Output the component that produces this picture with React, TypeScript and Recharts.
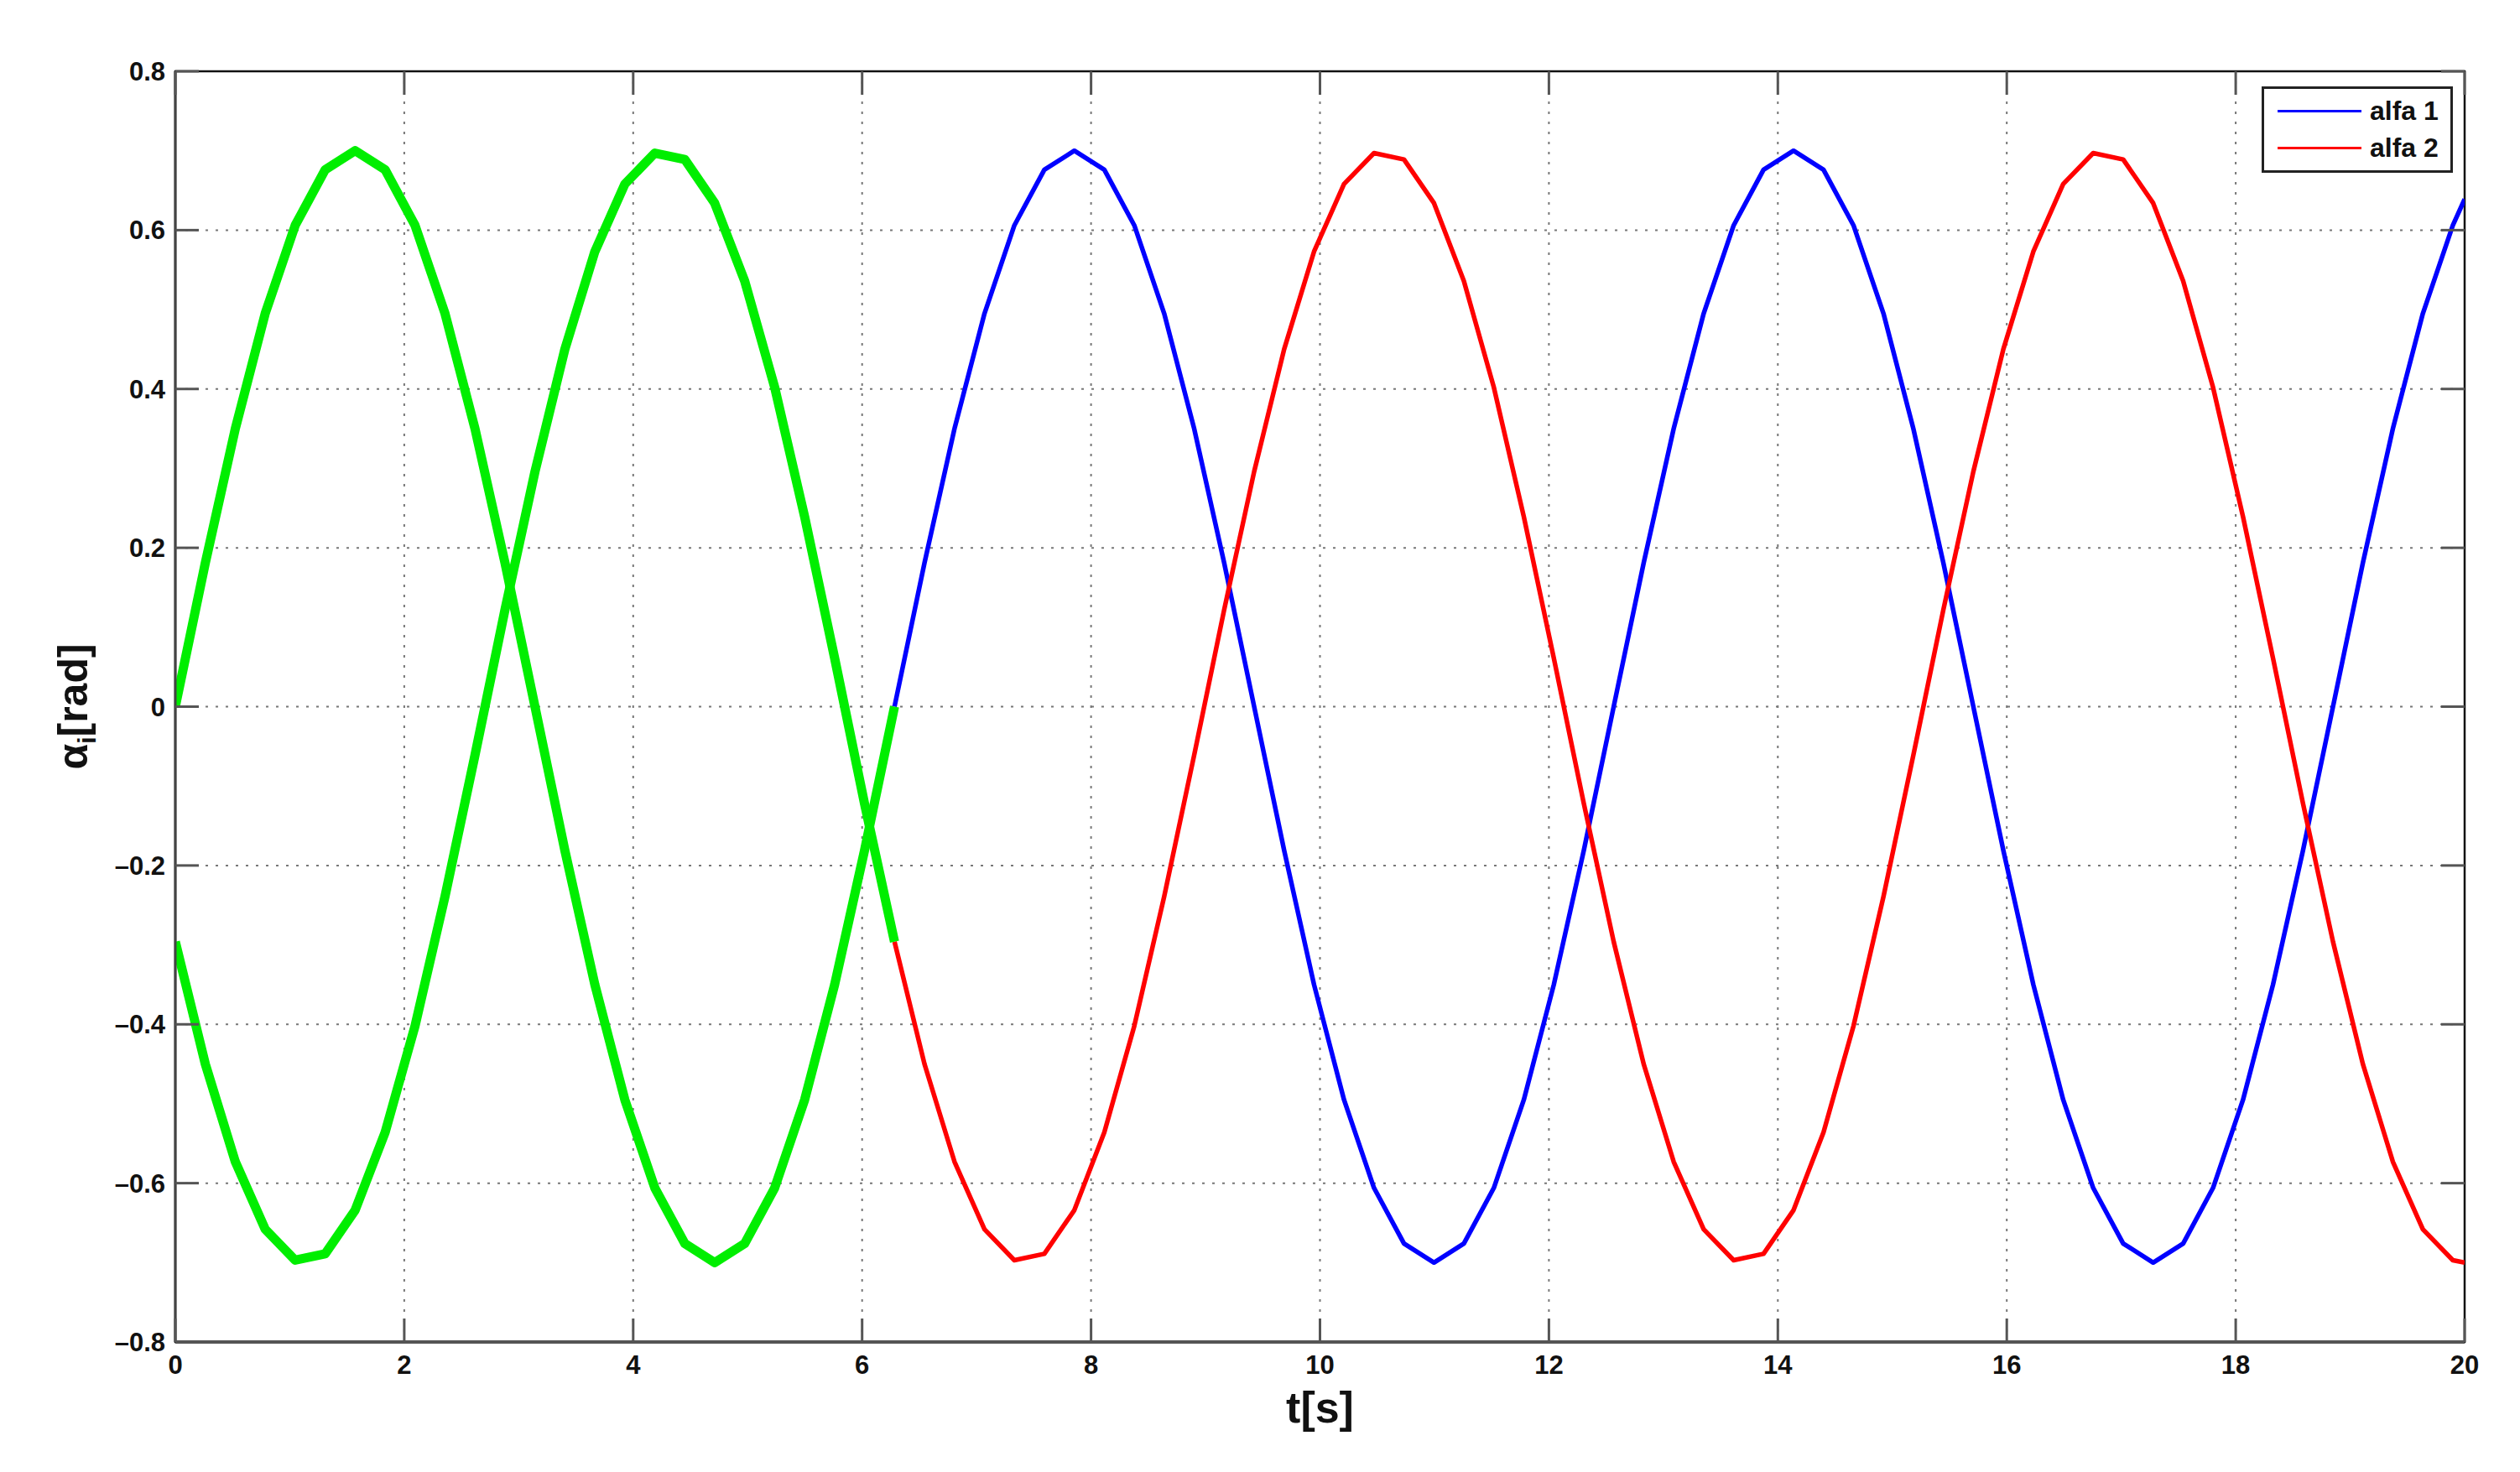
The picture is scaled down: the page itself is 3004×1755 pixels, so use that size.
import { LineChart, Line, XAxis, YAxis, CartesianGrid, ReferenceArea, Legend } from 'recharts'

// sample times [s] (step ~0.26 s, last point at 20 s)
const time = [
  0, 0.262, 0.524, 0.785, 1.047, 1.309, 1.571, 1.833, 2.094, 2.356, 2.618, 2.88, 3.142,
  3.403, 3.665, 3.927, 4.189, 4.451, 4.712, 4.974, 5.236, 5.498, 5.76, 6.021, 6.283,
  6.545, 6.807, 7.069, 7.33, 7.592, 7.854, 8.116, 8.378, 8.639, 8.901, 9.163, 9.425,
  9.687, 9.948, 10.21, 10.472, 10.734, 10.996, 11.257, 11.519, 11.781, 12.043, 12.305,
  12.566, 12.828, 13.09, 13.352, 13.614, 13.875, 14.137, 14.399, 14.661, 14.923, 15.184,
  15.446, 15.708, 15.97, 16.232, 16.493, 16.755, 17.017, 17.279, 17.541, 17.802, 18.064,
  18.326, 18.588, 18.85, 19.111, 19.373, 19.635, 19.897, 20,
]

// alfa 1 [rad]
const alfa1 = [
  0, 0.181, 0.35, 0.495, 0.606, 0.676, 0.7, 0.676, 0.606, 0.495, 0.35, 0.181, 0,
  -0.181, -0.35, -0.495, -0.606, -0.676, -0.7, -0.676, -0.606, -0.495, -0.35, -0.181, 0,
  0.181, 0.35, 0.495, 0.606, 0.676, 0.7, 0.676, 0.606, 0.495, 0.35, 0.181, 0,
  -0.181, -0.35, -0.495, -0.606, -0.676, -0.7, -0.676, -0.606, -0.495, -0.35, -0.181,
  0, 0.181, 0.35, 0.495, 0.606, 0.676, 0.7, 0.676, 0.606, 0.495, 0.35, 0.181,
  0, -0.181, -0.35, -0.495, -0.606, -0.676, -0.7, -0.676, -0.606, -0.495, -0.35, -0.181,
  0, 0.181, 0.35, 0.495, 0.606, 0.639,
]

// alfa 2 [rad]
const alfa2 = [
  -0.296, -0.45, -0.573, -0.658, -0.697, -0.689, -0.634, -0.536, -0.402, -0.239, -0.061, 0.122,
  0.296, 0.45, 0.573, 0.658, 0.697, 0.689, 0.634, 0.536, 0.402, 0.239, 0.061, -0.122,
  -0.296, -0.45, -0.573, -0.658, -0.697, -0.689, -0.634, -0.536, -0.402, -0.239, -0.061, 0.122,
  0.296, 0.45, 0.573, 0.658, 0.697, 0.689, 0.634, 0.536, 0.402, 0.239, 0.061, -0.122,
  -0.296, -0.45, -0.573, -0.658, -0.697, -0.689, -0.634, -0.536, -0.402, -0.239, -0.061, 0.122,
  0.296, 0.45, 0.573, 0.658, 0.697, 0.689, 0.634, 0.536, 0.402, 0.239, 0.061, -0.122,
  -0.296, -0.45, -0.573, -0.658, -0.697, -0.7,
]

const xTicks = [0, 2, 4, 6, 8, 10, 12, 14, 16, 18, 20]
const yTicks = [-0.8, -0.6, -0.4, -0.2, 0, 0.2, 0.4, 0.6, 0.8]

// first period (0..2π) is highlighted in green
const GREEN_END = 24

const W = 3004
const H = 1755
const PLOT = { left: 209, top: 85, right: 2938, bottom: 1600 }
const TICK_LEN = 28
const FONT = "'Liberation Sans', Arial, sans-serif"

const seg = (vals: number[], from: number, to: number) =>
  time.slice(from, to).map((t, i) => ({ t, v: vals[from + i] }))

const green1 = seg(alfa1, 0, GREEN_END + 1)
const green2 = seg(alfa2, 0, GREEN_END + 1)
const blue = seg(alfa1, GREEN_END, time.length)
const red = seg(alfa2, GREEN_END, time.length)

const fmtY = (v: number) => (v === 0 ? '0' : (v < 0 ? '\u2013' : '') + Math.abs(v).toFixed(1))

function XTick(props: any) {
  const { x, payload } = props
  return (
    <g>
      <line x1={x} x2={x} y1={PLOT.bottom} y2={PLOT.bottom - TICK_LEN} stroke="#555" strokeWidth={3} />
      <line x1={x} x2={x} y1={PLOT.top} y2={PLOT.top + TICK_LEN} stroke="#555" strokeWidth={3} />
      <text x={x} y={PLOT.bottom + 38} textAnchor="middle" fontFamily={FONT} fontWeight="bold" fontSize={31} fill="#111">
        {payload.value}
      </text>
    </g>
  )
}

function YTick(props: any) {
  const { y, payload } = props
  return (
    <g>
      <line x1={PLOT.left} x2={PLOT.left + TICK_LEN} y1={y} y2={y} stroke="#555" strokeWidth={3} />
      <line x1={PLOT.right} x2={PLOT.right - TICK_LEN} y1={y} y2={y} stroke="#555" strokeWidth={3} />
      <text x={PLOT.left - 12} y={y + 11} textAnchor="end" fontFamily={FONT} fontWeight="bold" fontSize={31} fill="#111">
        {fmtY(payload.value)}
      </text>
    </g>
  )
}

function LegendBox(props: any) {
  const items = (props.payload || []).filter((p: any) => p.type !== 'none' && p.value)
  return (
    <div
      style={{
        position: 'relative',
        width: 228,
        height: 103,
        boxSizing: 'border-box',
        border: '3px solid #222',
        background: '#fff',
      }}
    >
      {items.map((it: any, i: number) => (
        <div key={it.value} style={{ position: 'absolute', left: 16, top: 8 + i * 44, height: 36, display: 'flex', alignItems: 'center' }}>
          <div style={{ width: 100, height: 3, background: it.color }} />
          <span style={{ marginLeft: 10, fontFamily: FONT, fontWeight: 'bold', fontSize: 32, color: '#111' }}>{it.value}</span>
        </div>
      ))}
    </div>
  )
}

export default function App() {
  return (
    <div style={{ position: 'absolute', left: 0, top: 0, width: W, height: H, background: '#fff' }}>
      <LineChart width={W} height={H} margin={{ top: PLOT.top, right: W - PLOT.right, bottom: H - PLOT.bottom - 60, left: PLOT.left - 100 }}>
        <CartesianGrid stroke="#777" strokeWidth={2} strokeDasharray="3 9" />
        <XAxis
          type="number"
          dataKey="t"
          domain={[0, 20]}
          ticks={xTicks}
          interval={0}
          height={60}
          tickLine={false}
          axisLine={{ stroke: '#555', strokeWidth: 4 }}
          tick={XTick}
          allowDataOverflow
          label={{
            content: (p: any) => {
              const vb = p.viewBox || { x: PLOT.left, width: PLOT.right - PLOT.left }
              return (
                <text x={vb.x + vb.width / 2} y={PLOT.bottom + 96} textAnchor="middle" fontFamily={FONT} fontWeight="bold" fontSize={52} fill="#111">
                  t[s]
                </text>
              )
            },
          }}
        />
        <YAxis
          type="number"
          domain={[-0.8, 0.8]}
          ticks={yTicks}
          interval={0}
          width={100}
          tickLine={false}
          axisLine={{ stroke: '#444', strokeWidth: 3 }}
          tick={YTick}
          allowDataOverflow
          label={{
            content: (p: any) => {
              const vb = p.viewBox || { y: PLOT.top, height: PLOT.bottom - PLOT.top }
              return (
                <text
                  transform={`translate(104, ${vb.y + vb.height / 2}) rotate(-90)`}
                  textAnchor="middle"
                  fontFamily={FONT}
                  fontWeight="bold"
                  fontSize={50}
                  fill="#111"
                >
                  α<tspan dy={10} fontSize={30}>i</tspan>
                  <tspan dy={-10}>[rad]</tspan>
                </text>
              )
            },
          }}
        />
        <ReferenceArea x1={0} x2={20} y1={-0.8} y2={0.8} fill="none" stroke="#111" strokeWidth={2.5} />
        <Line data={blue} dataKey="v" name="alfa 1" type="linear" stroke="#0000ff" strokeWidth={5.5} strokeLinejoin="round" dot={false} isAnimationActive={false} />
        <Line data={red} dataKey="v" name="alfa 2" type="linear" stroke="#ff0000" strokeWidth={5.5} strokeLinejoin="round" dot={false} isAnimationActive={false} />
        <Line data={green1} dataKey="v" type="linear" stroke="#00ee00" strokeWidth={11} strokeLinejoin="round" dot={false} legendType="none" isAnimationActive={false} />
        <Line data={green2} dataKey="v" type="linear" stroke="#00ee00" strokeWidth={11} strokeLinejoin="round" dot={false} legendType="none" isAnimationActive={false} />
        <Legend
          layout="horizontal"
          verticalAlign="middle"
          align="center"
          wrapperStyle={{ left: 2696, top: 103, width: 228, height: 103 }}
          content={LegendBox}
        />
      </LineChart>
    </div>
  )
}
